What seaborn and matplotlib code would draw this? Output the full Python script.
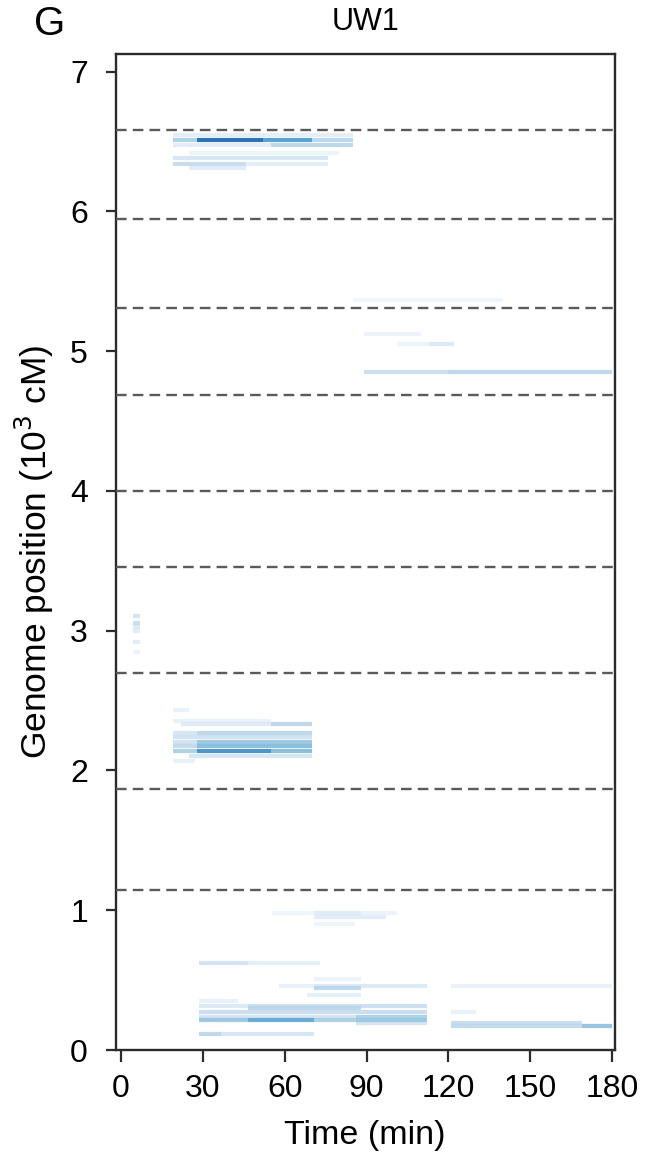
import numpy as np
import matplotlib
matplotlib.use("Agg")
import matplotlib.pyplot as plt
import seaborn as sns

# chromosome boundaries (10^3 cM)
boundaries = [6.58, 5.946, 5.309, 4.687, 4.0, 3.456, 2.697, 1.867, 1.145]

# blue streaks: genome position, start / end time (min), intensity
top_pos = [6.55, 6.51, 6.51, 6.51, 6.51, 6.475, 6.475, 6.42, 6.38, 6.34, 6.34, 6.31]
top_t0 = [19, 19, 28, 52, 70, 19, 55, 25, 19, 19, 46, 25]
top_t1 = [85, 28, 52, 70, 85, 55, 85, 80, 76, 46, 76, 46]
top_val = [0.10, 0.35, 0.80, 0.60, 0.30, 0.12, 0.30, 0.06, 0.18, 0.26, 0.10, 0.12]

mid_pos = [2.433, 2.356, 2.333, 2.333, 2.266, 2.266, 2.237, 2.206, 2.206,
           2.178, 2.178, 2.142, 2.142, 2.142, 2.104, 2.07]
mid_t0 = [19, 19, 22, 55, 19, 28, 19, 19, 28, 19, 28, 19, 28, 55, 25, 19]
mid_t1 = [25, 55, 55, 70, 28, 70, 70, 28, 70, 28, 70, 28, 55, 70, 70, 27]
mid_val = [0.08, 0.08, 0.14, 0.30, 0.18, 0.30, 0.22, 0.22, 0.40,
           0.28, 0.45, 0.35, 0.65, 0.45, 0.18, 0.08]

spot_pos = [3.105, 3.055, 3.03, 3.0, 2.92, 2.85]
spot_t0 = [4.5, 4.5, 4.5, 4.5, 4.5, 4.5]
spot_t1 = [7, 7, 7, 7, 7, 7]
spot_val = [0.20, 0.25, 0.15, 0.12, 0.12, 0.06]

chr4_pos = [5.37, 5.12, 5.05, 5.05, 4.85, 4.85]
chr4_t0 = [85, 89, 101, 113, 89, 120]
chr4_t1 = [140, 110, 113, 122, 120, 180]
chr4_val = [0.04, 0.06, 0.06, 0.15, 0.24, 0.30]

low_pos = [0.978, 0.978, 0.978, 0.949, 0.902, 0.625, 0.625, 0.508, 0.458, 0.458,
           0.458, 0.441, 0.394, 0.353, 0.315, 0.315, 0.298, 0.270, 0.270, 0.239,
           0.239, 0.215, 0.215, 0.215, 0.215, 0.191, 0.191, 0.174, 0.174, 0.112,
           0.112]
low_t0 = [55.5, 70.6, 88, 70.6, 70.6, 28.6, 46.7, 70.6, 58, 70.6,
          121, 70.6, 68, 28.6, 28.6, 46.7, 46.7, 28.6, 121, 28.6,
          86, 28.6, 46.7, 70.6, 86, 86, 121, 121, 169, 28.6,
          36.6]
low_t1 = [70.6, 88, 101, 97, 85.8, 46.7, 73, 88, 70.6, 112,
          180, 88, 88, 43, 46.7, 112, 88, 112, 130, 86,
          112, 46.7, 70.6, 86, 112, 112, 169, 180, 180, 36.6,
          70.6]
low_val = [0.05, 0.14, 0.07, 0.12, 0.06, 0.20, 0.10, 0.07, 0.08, 0.15,
           0.08, 0.30, 0.10, 0.08, 0.15, 0.24, 0.30, 0.25, 0.08, 0.20,
           0.35, 0.40, 0.55, 0.35, 0.40, 0.20, 0.25, 0.28, 0.40, 0.30,
           0.18]

x_ticks = [0, 30, 60, 90, 120, 150, 180]
y_ticks = [0, 1, 2, 3, 4, 5, 6, 7]

sns.set_theme(style="ticks")
plt.rcParams['font.family'] = ['Liberation Sans', 'DejaVu Sans']
plt.rcParams['text.color'] = 'black'
plt.rcParams['axes.labelcolor'] = 'black'
plt.rcParams['xtick.labelcolor'] = 'black'
plt.rcParams['ytick.labelcolor'] = 'black'
cmap = sns.color_palette("Blues", as_cmap=True)

fig = plt.figure(figsize=(6.46, 11.59), dpi=100)
ax = fig.add_axes([116 / 646, 1 - 1050 / 1159, 498.5 / 646, 996 / 1159])

pos = np.array(top_pos + mid_pos + spot_pos + chr4_pos + low_pos)
t0 = np.array(top_t0 + mid_t0 + spot_t0 + chr4_t0 + low_t0)
t1 = np.array(top_t1 + mid_t1 + spot_t1 + chr4_t1 + low_t1)
val = np.array(top_val + mid_val + spot_val + chr4_val + low_val)
order = np.argsort(val)
ax.hlines(pos[order], t0[order], t1[order], colors=cmap(val[order]),
          linewidth=3.0, alpha=0.9, zorder=2)

for b in boundaries:
    ax.axhline(b, color='#5a5a5a', lw=1.7, linestyle=(0, (4.5, 2.6)), zorder=3)

ax.set_xlim(-1.83, 180.9)
ax.set_ylim(0, 7.127)
ax.set_xticks(x_ticks)
ax.set_yticks(y_ticks)
for s in ax.spines.values():
    s.set_linewidth(1.7)
    s.set_color('#2b2b2b')
    s.set_visible(True)
ax.tick_params(axis='y', length=7.2, width=1.6, pad=13, labelsize=23, color='#2b2b2b')
ax.tick_params(axis='x', length=8.6, width=1.6, pad=9, labelsize=23, color='#2b2b2b')
ax.grid(False)

ax.set_xlabel("Time (min)", fontsize=24.5, labelpad=11)
ax.set_ylabel("Genome position (10$^3$ cM)", fontsize=25.5, labelpad=10)
ax.set_title("UW1", fontsize=22, pad=17)
fig.text(50 / 646, 1 - 24 / 1159, "G", fontsize=29, ha='center', va='center')

plt.savefig("out.png", dpi=100)
